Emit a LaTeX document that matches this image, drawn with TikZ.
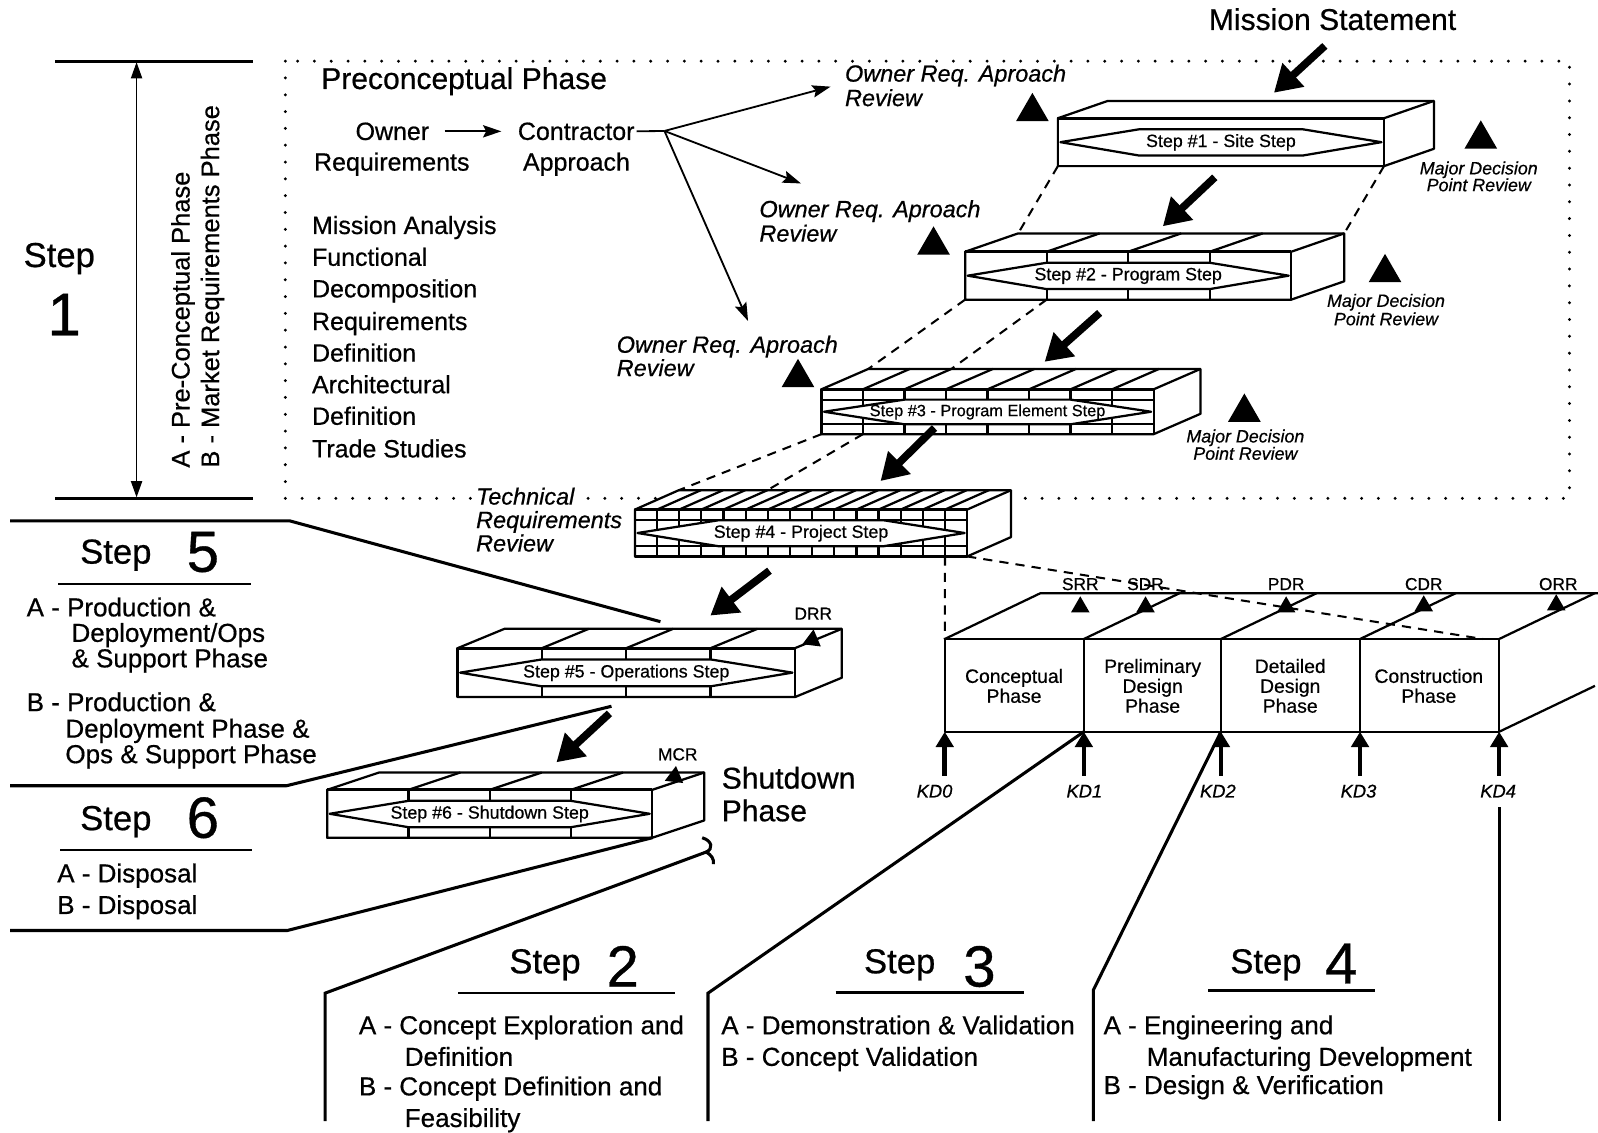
\documentclass[tikz,border=0pt]{standalone}
\usepackage{fontspec}
\setmainfont{Liberation Sans}[FakeBold=0.6]
\usetikzlibrary{arrows.meta,shapes.geometric}

\newcommand{\fsz}[2]{\fontsize{#1}{#2}\selectfont}

% Layered step block: #1 name, #2/#3 front top-left corner, #4 width, #5 height,
% #6 depth in x, #7 rise of the back edge, #8 number of segments, #9 caption
\newcommand{\layerbox}[9]{%
\begin{scope}[shift={(#2,#3)}]
  \coordinate (#1-ftl) at (0,0);
  \coordinate (#1-ftr) at (#4,0);
  \coordinate (#1-fbl) at (0,#5);
  \coordinate (#1-fbr) at (#4,#5);
  \coordinate (#1-btl) at (#6,-#7);
  \coordinate (#1-btr) at (#4+#6,-#7);
  \filldraw[boxline,fill=white] (0,0) -- (#6,-#7) -- (#4+#6,-#7) -- (#4+#6,#5-#7) -- (#4,#5) -- (0,#5) -- cycle;
  \draw[boxline] (#4,0) -- (#4+#6,-#7);
  \draw[boxline] (0,0) rectangle (#4,#5);
  \draw[frontedge] (0,0) -- (#4,0);
  \pgfmathsetmacro\hexT{0.23*#5}
  \pgfmathsetmacro\hexB{0.78*#5}
  \ifnum#8>1
    \pgfmathtruncatemacro\nlast{#8-1}
    \foreach \k in {1,...,\nlast}{
      \pgfmathsetmacro\xk{\k*#4/#8}
      \coordinate (#1-d\k) at (\xk,#5);
      \coordinate (#1-b\k) at (\xk+#6,-#7);
      \draw[boxline] (\xk,0) -- (\xk,#5);
      \draw[boxline] (\xk,0) -- ++(#6,-#7);
    }
  \fi
  \ifnum#8>4
    \draw[boxline] (0,\hexT) -- (#4,\hexT) (0,\hexB) -- (#4,\hexB);
  \fi
  \filldraw[boxline,fill=white] (2.5,#5/2) -- (#4/4,\hexT) -- (3*#4/4,\hexT) -- (#4-2.5,#5/2)
     -- (3*#4/4,\hexB) -- (#4/4,\hexB) -- cycle;
  \node[boxcap] (#1-cap) at (#4/2,{(\hexT+\hexB)/2}) {#9};
\end{scope}}

\begin{document}
\begin{tikzpicture}[x=1pt,y=-1pt,
  boxline/.style={line width=2.2pt, line join=round},
  frontedge/.style={line width=3pt},
  bigarrow/.style={line width=7.5pt, -{Triangle[length=26pt,width=30pt]}},
  kdarrow/.style={line width=4.5pt, -{Triangle[length=15pt,width=17pt]}},
  thinarrow/.style={line width=1.8pt, -{Stealth[length=18pt,width=12pt,inset=3pt]}},
  spanarrow/.style={line width=1.6pt, {Triangle[length=16pt,width=11pt]}-{Triangle[length=16pt,width=11pt]}},
  border/.style={line width=3pt, line join=miter},
  ruler/.style={line width=2.5pt},
  dotborder/.style={line width=3.2pt, line cap=round, dash pattern=on 0pt off 16.5pt},
  dashline/.style={line width=2pt, dash pattern=on 9pt off 7pt},
  tri/.style={regular polygon, regular polygon sides=3, fill=black, draw=none, inner sep=0pt, minimum size=37pt},
  smalltri/.style={tri, minimum size=21pt},
  body/.style={inner sep=0pt, anchor=base west, font=\fsz{24.5}{29}},
  panel/.style={inner sep=0pt, anchor=base west, font=\fsz{25.5}{30}},
  head/.style={inner sep=0pt, anchor=base west, font=\fsz{34}{40}},
  digit/.style={inner sep=0pt, anchor=base west, font=\fsz{57}{66}},
  big/.style={inner sep=0pt, anchor=base west, font=\fsz{29.5}{34}},
  note/.style={inner sep=0pt, anchor=base west, font=\fsz{23}{26}\itshape},
  mdp/.style={inner sep=0pt, anchor=base, font=\fsz{17.5}{20}\itshape},
  rev/.style={inner sep=0pt, anchor=base, font=\fsz{17}{20}},
  phase/.style={inner sep=0pt, align=center, font=\fsz{19}{19.5}},
  kdlab/.style={inner sep=0pt, anchor=base, font=\fsz{18}{20}\itshape},
  boxcap/.style={inner sep=0pt, font=\fsz{17.5}{20}}
]
\useasboundingbox (0,0) rectangle (1568,1111);

% ---------- preconceptual frame ----------
\draw[dotborder] (280,60) rectangle (1540,489);

% ---------- step 1 ruler ----------
\coordinate (r1a) at (54,60.5);
\coordinate (r1b) at (248,60.5);
\coordinate (r2a) at (54,489);
\coordinate (r2b) at (248,489);
\draw[ruler] (r1a) -- (r1b);
\draw[ruler] (r2a) -- (r2b);
\coordinate (spanT) at (134,61);
\coordinate (spanB) at (134,488);
\draw[spanarrow] (spanT) -- (spanB);
\node[head] (st1) at (23,262) {Step};
\node[inner sep=0pt, anchor=base, font=\fsz{59}{66}] (st1n) at (63,329) {1};
\node[body, rotate=90, font=\fsz{25}{29}] (st1a) at (186,459) {A - Pre-Conceptual Phase};
\node[body, rotate=90, font=\fsz{25}{29}] (st1b) at (215,459) {B - Market Requirements Phase};

% ---------- preconceptual contents ----------
\node[big] (pre) at (315,87.3) {Preconceptual Phase};
\node[body, anchor=base] (own) at (385,137.3) {Owner};
\node[body] (ownr) at (308,167.4) {Requirements};
\node[body] (con) at (508,137.3) {Contractor};
\node[body] (conr) at (513,167.4) {Approach};
\draw[thinarrow] ([xshift=15pt]own.east) -- ([xshift=-16pt]con.west);
\coordinate (fork) at (652,128.5);
\draw[line width=1.8pt] ([xshift=2pt]con.east) -- (fork);
\coordinate (rv1) at (815,85);
\coordinate (rv2) at (786,180);
\coordinate (rv3) at (734,315);
\draw[thinarrow] (fork) -- (rv1);
\draw[thinarrow] (fork) -- (rv2);
\draw[thinarrow] (fork) -- (rv3);

\node[body] (l1) at (306,229.6) {Mission Analysis};
\node[body] (l2) at (306,260.8) {Functional};
\node[body] (l3) at (306,291.8) {Decomposition};
\node[body] (l4) at (306,323.8) {Requirements};
\node[body] (l5) at (306,354.8) {Definition};
\node[body] (l6) at (306,385.8) {Architectural};
\node[body] (l7) at (306,416.8) {Definition};
\node[body] (l8) at (306,448.8) {Trade Studies};

\node[note] (o1a) at (829,80.1) {Owner Req. Aproach};
\node[note] (o1b) at (829,104.1) {Review};
\node[note] (o2a) at (745,213.1) {Owner Req. Aproach};
\node[note] (o2b) at (745,237.1) {Review};
\node[note] (o3a) at (605,346.1) {Owner Req. Aproach};
\node[note] (o3b) at (605,369.1) {Review};
\node[tri] (ot1) at (1013,109.6) {};
\node[tri] (ot2) at (916,240.6) {};
\node[tri] (ot3) at (783,370.6) {};

\node[big] (mis) at (1186,29.4) {Mission Statement};

% ---------- step blocks ----------
\layerbox{s1}{1038}{116}{320}{47}{49}{17}{1}{Step \#1 - Site Step}
\layerbox{s2}{947}{247}{320}{47}{52}{18}{4}{Step \#2 - Program Step}
\layerbox{s3}{806}{382}{326}{44}{46}{20}{8}{\fsz{16}{18}Step \#3 - Program Element Step}
\layerbox{s4}{623}{500}{326}{46}{43}{19}{15}{Step \#4 - Project Step}
\layerbox{s5}{449}{636}{331}{48}{46}{19}{4}{Step \#5 - Operations Step}
\layerbox{s6}{321}{775}{319}{47}{51}{17}{4}{Step \#6 - Shutdown Step}

\draw[dashline] (s1-fbl) -- (s2-btl);
\draw[dashline] (s1-fbr) -- (s2-btr);
\draw[dashline] (s2-fbl) -- (s3-btl);
\draw[dashline] (s2-d1) -- (s3-b2);
\draw[dashline] (s3-fbl) -- (s4-btl);
\draw[dashline] (s3-d1) -- (s4-b4);

% major decision point reviews
\node[tri] (mt1) at (1453,136.6) {};
\node[mdp] (md1a) at (1451,171.1) {Major Decision};
\node[mdp] (md1b) at (1451,187.6) {Point Review};
\node[tri] (mt2) at (1359,267.6) {};
\node[mdp] (md2a) at (1360,301.1) {Major Decision};
\node[mdp] (md2b) at (1360,319.1) {Point Review};
\node[tri] (mt3) at (1221,404.6) {};
\node[mdp] (md3a) at (1222,434.1) {Major Decision};
\node[mdp] (md3b) at (1222,451.1) {Point Review};

% flow arrows between blocks
\coordinate (a0s) at (1300,45);  \coordinate (a0e) at (1250,91);
\coordinate (a1s) at (1192,174); \coordinate (a1e) at (1141,222);
\coordinate (a2s) at (1079,307); \coordinate (a2e) at (1025,355);
\coordinate (a3s) at (917,420);  \coordinate (a3e) at (864,472);
\coordinate (a4s) at (755,560);  \coordinate (a4e) at (697,604);
\coordinate (a5s) at (598,700);  \coordinate (a5e) at (546,748);
\draw[bigarrow] (a0s) -- (a0e);
\draw[bigarrow] (a1s) -- (a1e);
\draw[bigarrow] (a2s) -- (a2e);
\draw[bigarrow] (a3s) -- (a3e);
\draw[bigarrow] (a4s) -- (a4e);
\draw[bigarrow] (a5s) -- (a5e);

\node[note, fill=white] (tr1) at (467,495.1) {Technical};
\node[note] (tr2) at (467,518.1) {Requirements};
\node[note] (tr3) at (467,541.1) {Review};

% ---------- project phase block ----------
\coordinate (pt0) at (927,627);   \coordinate (kd0) at (927,718);
\coordinate (pt1) at (1063.5,627);\coordinate (kd1) at (1063.5,718);
\coordinate (pt2) at (1198,627);  \coordinate (kd2) at (1198,718);
\coordinate (pt3) at (1334.5,627);\coordinate (kd3) at (1334.5,718);
\coordinate (pt4) at (1471,627);  \coordinate (kd4) at (1471,718);
\draw[boxline] (pt0) -- ++(94,-45) -- (1570,582);
\foreach \i in {1,...,4}{\draw[boxline] (pt\i) -- ++(94,-45);}
\draw[boxline] (kd4) -- ++(94,-45);
\draw[boxline] (pt0) rectangle (kd4);
\foreach \i in {1,2,3}{\draw[boxline] (pt\i) -- (kd\i);}

\draw[dashline] (s4-d14) -- (pt0);
\draw[dashline] (s4-fbr) -- ([xshift=-16pt]pt4);

\node[phase] (ph0) at (995,673) {Conceptual\\Phase};
\node[phase] (ph1) at (1131,673) {Preliminary\\Design\\Phase};
\node[phase] (ph2) at (1266,673) {Detailed\\Design\\Phase};
\node[phase] (ph3) at (1402,673) {Construction\\Phase};

\node[rev] (srr) at (1060,579) {SRR};
\node[rev] (sdr) at (1124,579) {SDR};
\node[rev] (pdr) at (1262,579) {PDR};
\node[rev] (cdr) at (1397,579) {CDR};
\node[rev] (orr) at (1529,579) {ORR};
\node[smalltri] (srt) at (1060,595.6) {};
\node[smalltri] (sdt) at (1124,595.6) {};
\node[smalltri] (pdt) at (1262,595.6) {};
\node[smalltri] (cdt) at (1397,594.6) {};
\node[smalltri] (ort) at (1527,593.6) {};

\foreach \i/\lx in {0/917,1/1064,2/1195,3/1333,4/1470}{
  \path (kd\i) ++(0,43) coordinate (kdt\i);
  \draw[kdarrow] (kdt\i) -- (kd\i);
  \node[kdlab] (kdl\i) at (\lx,782.5) {KD\i};
}

% ---------- operations and shutdown reviews ----------
\node[rev] (drr) at (798,608) {DRR};
\node[smalltri, rotate=113] (drt) at (797,628) {};
\node[rev] (mcr) at (665,746) {MCR};
\node[smalltri, rotate=113] (mct) at (662,762) {};
\node[big] (sd1) at (708,773.8) {Shutdown};
\node[big] (sd2) at (708,805.8) {Phase};

% ---------- step 5 and step 6 panels ----------
\draw[border] (10,511) -- (284,511) -- (648,610);
\draw[border] (10,771) -- (281,771) -- (600,693);
\draw[border] (10,913) -- (282,913) -- (s6-fbr);

\node[head] (st5) at (78.5,553) {Step};
\node[digit] (st5n) at (183,561) {5};
\draw[ruler] (57,573) -- (246,573);
\node[panel] (p5a) at (26,604.8) {A - Production \&};
\node[panel] (p5b) at (70,629.8) {Deployment/Ops};
\node[panel] (p5c) at (70,654.8) {\& Support Phase};
\node[panel] (p5d) at (26,697.8) {B - Production \&};
\node[panel] (p5e) at (64,723.8) {Deployment Phase \&};
\node[panel] (p5f) at (64,748.8) {Ops \& Support Phase};

\node[head] (st6) at (78.5,814.5) {Step};
\node[digit] (st6n) at (183,822) {6};
\draw[ruler] (59,834) -- (247,834);
\node[panel] (p6a) at (56,865.8) {A - Disposal};
\node[panel] (p6b) at (56,896.8) {B - Disposal};

% ---------- step 2, 3, 4 panels ----------
\coordinate (hook) at (693,836);
\draw[border] (319,1100) -- (319,974.5) -- (hook);
\draw[border] (689,822) .. controls (699,825) and (700,833) .. (hook) .. controls (698,839) and (701,843) .. (700,848);
\draw[border] (694.7,1100) -- (694.7,974.5) -- (kd1);
\draw[border] (1072.8,1100) -- (1072.8,971.5) -- (kd2);
\coordinate (kd4low) at (1471,792);
\draw[border] (kd4low) -- (1471,1100);

\node[head] (st2) at (499.6,955) {Step};
\node[digit] (st2n) at (595,968) {2};
\draw[ruler] (449.6,974.5) -- (662.6,974.5);
\node[panel] (p2a) at (352,1014.8) {A - Concept Exploration and};
\node[panel] (p2b) at (397,1045.8) {Definition};
\node[panel] (p2c) at (352,1074.8) {B - Concept Definition and};
\node[panel] (p2d) at (397,1105.8) {Feasibility};

\node[head] (st3) at (847.6,955) {Step};
\node[digit] (st3n) at (945,968) {3};
\draw[ruler] (820,974) -- (1005,974);
\node[panel] (p3a) at (707.6,1014.8) {A - Demonstration \& Validation};
\node[panel] (p3b) at (707.6,1045.8) {B - Concept Validation};

\node[head] (st4) at (1207,955) {Step};
\node[digit] (st4n) at (1300,965) {4};
\draw[ruler] (1185.6,972) -- (1349.5,972);
\node[panel] (p4a) at (1082.7,1014.8) {A - Engineering and};
\node[panel] (p4b) at (1125,1045.8) {Manufacturing Development};
\node[panel] (p4c) at (1082.7,1073.5) {B - Design \& Verification};
\end{tikzpicture}
\end{document}
